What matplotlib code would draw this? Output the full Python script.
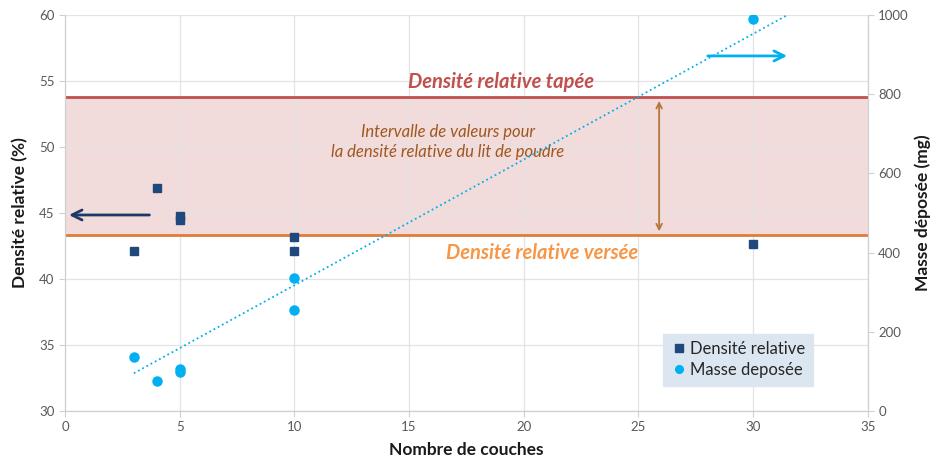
import numpy as np
import matplotlib
matplotlib.use("Agg")
import matplotlib.pyplot as plt

plt.rcParams['font.family'] = ['Lato', 'DejaVu Sans']

# Data
couches_dens = [3, 4, 5, 5, 10, 10, 30]
densite = [42.1, 46.9, 44.8, 44.45, 43.2, 42.1, 42.65]
couches_masse = [3, 4, 5, 5, 10, 10, 30]
masse = [137, 76, 105, 98, 337, 254, 989]
dens_tapee = 53.8
dens_versee = 43.3

xticks = [0, 5, 10, 15, 20, 25, 30, 35]
yticks_left = [30, 35, 40, 45, 50, 55, 60]
yticks_right = [0, 200, 400, 600, 800, 1000]

fig = plt.figure(figsize=(9.33, 4.62), dpi=100)
ax = fig.add_axes([0.0697, 0.1104, 0.8605, 0.8571])
ax2 = ax.twinx()

grey = '#595959'
spine_c = '#d0d0d0'

ax.set_xlim(0, 35)
ax.set_ylim(30, 60)
ax2.set_ylim(0, 1000)
ax.set_xticks(xticks)
ax.set_yticks(yticks_left)
ax2.set_yticks(yticks_right)
ax.grid(True, color='#e3e3e3', linewidth=0.9)
ax.set_axisbelow(True)

for a in (ax, ax2):
    for s in a.spines.values():
        s.set_color(spine_c)
    a.spines['top'].set_visible(False)
    a.tick_params(colors=spine_c, labelcolor=grey, labelsize=9.5, length=4)

# band
ax.axhspan(dens_versee, dens_tapee, color='#f2dcdb', zorder=0.5)
ax.axhline(dens_tapee, color='#c0504d', linewidth=2, zorder=2)
ax.axhline(dens_versee, color='#e07b39', linewidth=2, zorder=2)

ax.text(19.0, 54.9, 'Densité relative tapée', color='#c0504d', fontsize=14.5,
        fontweight='bold', style='italic', ha='center', va='center')
ax.text(20.8, 42.0, 'Densité relative versée', color='#f79646', fontsize=14.5,
        fontweight='bold', style='italic', ha='center', va='center')
ax.text(16.7, 50.4, 'Intervalle de valeurs pour\nla densité relative du lit de poudre',
        color='#a0561e', fontsize=12, style='italic', ha='center', va='center',
        linespacing=1.3)

ax.annotate('', xy=(25.9, dens_tapee - 0.1), xytext=(25.9, dens_versee + 0.1),
            arrowprops=dict(arrowstyle='<->', color='#b5763a', lw=1.3))

# arrows
ax.annotate('', xy=(0.05, 44.85), xytext=(3.8, 44.85),
            arrowprops=dict(arrowstyle='->', color='#1f3864', lw=2,
                            mutation_scale=18))
ax.annotate('', xy=(31.6, 56.9), xytext=(27.9, 56.9),
            arrowprops=dict(arrowstyle='->', color='#00b0f0', lw=2,
                            mutation_scale=18))

# series
ax.plot(couches_dens, densite, linestyle='none', marker='s', markersize=6,
        color='#1f497d', zorder=4, label='Densité relative')
ax2.plot(couches_masse, masse, linestyle='none', marker='o', markersize=6.5,
         color='#00b0f0', zorder=4, label='Masse deposée')

# trendline through origin
xm = np.array(couches_masse, float)
ym = np.array(masse, float)
slope = np.sum(xm * ym) / np.sum(xm * xm)
xt = np.linspace(min(couches_masse), 35, 50)
ax2.plot(xt, slope * xt, linestyle=':', color='#00b0f0', linewidth=1.3, zorder=3)

ax.set_xlabel('Nombre de couches', fontsize=12.5, fontweight='bold', color='#1a1a1a',
              labelpad=6)
ax.set_ylabel('Densité relative (%)', fontsize=12.5, fontweight='bold', color='#1a1a1a',
              labelpad=8)
ax2.set_ylabel('Masse déposée (mg)', fontsize=12.5, fontweight='bold', color='#1a1a1a',
               labelpad=4)

h1, l1 = ax.get_legend_handles_labels()
h2, l2 = ax2.get_legend_handles_labels()
leg = ax2.legend(h1 + h2, l1 + l2, loc='upper left', bbox_to_anchor=(0.745, 0.195),
                 frameon=True, fancybox=False, facecolor='#dce6f1', edgecolor='#dce6f1',
                 framealpha=1, fontsize=12, handletextpad=0.15, handlelength=1.0,
                 borderpad=0.45, labelspacing=0.3, borderaxespad=0, markerscale=0.85)
for t in leg.get_texts():
    t.set_color('#262626')

fig.savefig('out.png', dpi=100)
